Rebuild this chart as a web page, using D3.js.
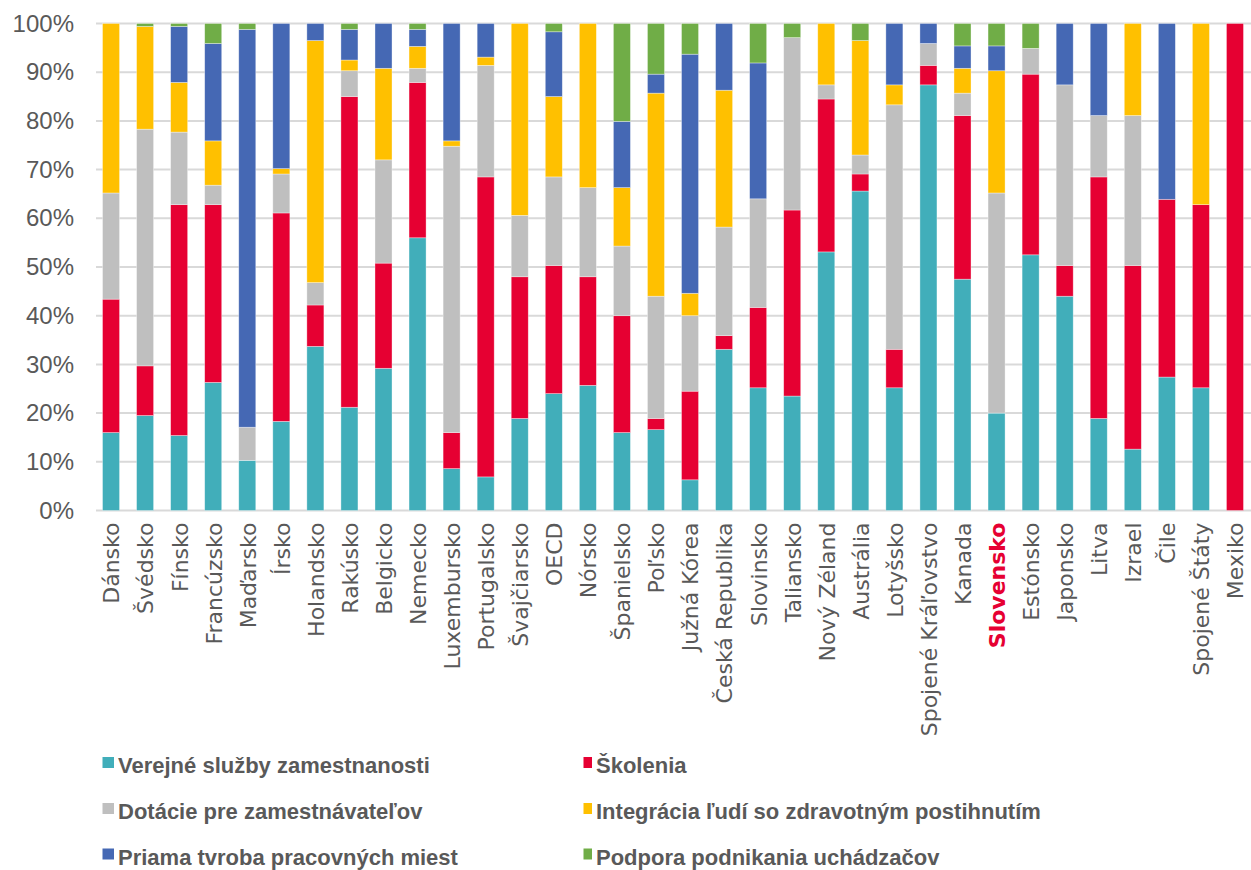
<!DOCTYPE html>
<html lang="sk">
<head>
<meta charset="utf-8">
<script src="https://cdn.jsdelivr.net/npm/d3@7"></script>
<style>
  html, body { margin: 0; padding: 0; background: #fff; }
  svg { display: block; }
</style>
</head>
<body>
<svg id="chart" width="1251" height="870"></svg>
<script>
// Štruktúra výdavkov na aktívne politiky trhu práce (podiel v %)
const countries = ["Dánsko","Švédsko","Fínsko","Francúzsko","Maďarsko","Írsko","Holandsko","Rakúsko","Belgicko","Nemecko","Luxembursko","Portugalsko","Švajčiarsko","OECD","Nórsko","Španielsko","Poľsko","Južná Kórea","Česká Republika","Slovinsko","Taliansko","Nový Zéland","Austrália","Lotyšsko","Spojené Kráľovstvo","Kanada","Slovensko","Estónsko","Japonsko","Litva","Izrael","Čile","Spojené Štáty","Mexiko"];

const verejneSluzby = [16.0,19.5,15.4,26.3,10.3,18.3,33.7,21.2,29.2,56.0,8.6,6.9,18.9,24.0,25.7,16.0,16.6,6.3,33.1,25.2,23.5,53.1,65.6,25.2,87.4,47.5,20.0,52.5,44.0,18.9,12.6,27.4,25.2,0];
const skolenia = [27.4,10.2,47.4,36.5,0,42.8,8.5,63.8,21.6,31.9,7.4,61.6,29.1,26.3,22.3,24.0,2.3,18.2,2.8,16.5,38.2,31.4,3.5,7.9,4.0,33.6,0,37.1,6.3,49.6,37.7,36.5,37.6,100];
const dotacie = [21.8,48.6,14.9,4.0,6.8,8.0,4.6,5.3,21.2,2.9,58.8,22.9,12.6,18.2,18.3,14.3,25.1,15.5,22.3,22.3,35.4,2.9,3.9,50.2,4.5,4.6,45.2,5.3,37.1,12.6,30.8,0,0,0];
const integracia = [34.8,21.1,10.2,9.1,0,1.1,49.7,2.2,18.8,4.5,1.1,1.7,39.4,16.5,33.7,12.0,41.7,4.6,28.1,0,0,12.6,23.5,4.1,0,5.1,25.1,0,0,0,18.9,0,37.2,0];
const priamaTvorba = [0,0,11.5,20.0,81.7,29.8,3.5,6.3,9.2,3.5,24.1,6.9,0,13.3,0,13.6,3.9,49.1,13.7,27.9,0,0,0,12.6,4.1,4.6,5.1,0,12.6,18.9,0,36.1,0,0];
const podpora = [0,0.6,0.6,4.1,1.2,0,0,1.2,0,1.2,0,0,0,1.7,0,20.1,10.4,6.3,0,8.1,2.9,0,3.5,0,0,4.6,4.6,5.1,0,0,0,0,0,0];

const seriesNames = ["Verejné služby zamestnanosti","Školenia","Dotácie pre zamestnávateľov","Integrácia ľudí so zdravotným postihnutím","Priama tvroba pracovných miest","Podpora podnikania uchádzačov"];
const seriesValues = [verejneSluzby, skolenia, dotacie, integracia, priamaTvorba, podpora];
const seriesColors = ["#41AEBA","#E60032","#BFBFBF","#FFC000","#4568B4","#70AD47"];
const yTicks = [0,0.1,0.2,0.3,0.4,0.5,0.6,0.7,0.8,0.9,1];
const highlighted = "Slovensko";

// Riadky pre d3.stack
const keys = seriesNames;
const rows = countries.map((c, i) => {
  const r = { country: c };
  keys.forEach((k, j) => { r[k] = seriesValues[j][i]; });
  return r;
});

const svg = d3.select("#chart");
const textColor = "#595959";

const x = d3.scaleBand().domain(countries).range([94, 1252]).paddingInner(0.5).paddingOuter(0.25);
const y = d3.scaleLinear().domain([0, 1]).range([510.5, 23.5]);

const stacked = d3.stack().keys(keys).offset(d3.stackOffsetExpand)(rows);

// Mriežka
svg.append("g").selectAll("line").data(yTicks).join("line")
  .attr("x1", 96).attr("x2", 1251)
  .attr("y1", d => y(d)).attr("y2", d => y(d))
  .attr("stroke", "#D9D9D9").attr("stroke-width", 2);

// Os Y
const yAxis = d3.axisLeft(y).tickValues(yTicks).tickFormat(d3.format(".0%")).tickSize(0).tickPadding(0);
const gy = svg.append("g").attr("transform", "translate(74,0)").call(yAxis);
gy.select(".domain").remove();
gy.selectAll("text")
  .attr("fill", textColor)
  .style("font-family", "'Liberation Sans', Arial, sans-serif")
  .style("font-size", "24px");

// Stĺpce
svg.append("g").selectAll("g").data(stacked).join("g")
  .attr("fill", (d, i) => seriesColors[i])
  .selectAll("rect").data(d => d).join("rect")
  .attr("x", d => x(d.data.country))
  .attr("width", x.bandwidth())
  .attr("y", d => y(d[1]))
  .attr("height", d => Math.max(0, y(d[0]) - y(d[1])))
  .attr("stroke", "#ffffff").attr("stroke-width", 0.7).attr("stroke-opacity", 0.5);

// Os X s otočenými popismi
const xAxis = d3.axisBottom(x).tickSize(0).tickPadding(0);
const gx = svg.append("g").attr("transform", "translate(0,510.5)").call(xAxis);
gx.select(".domain").remove();
gx.selectAll("text")
  .attr("transform", "rotate(-90)")
  .attr("x", -12).attr("y", 0).attr("dy", "0.38em")
  .attr("text-anchor", "end")
  .attr("fill", d => d === highlighted ? "#E60032" : textColor)
  .style("font-weight", d => d === highlighted ? "bold" : "normal")
  .style("font-family", "'DejaVu Sans', sans-serif")
  .style("font-size", "22px");

// Legenda
const legendPos = [
  {sx: 102.5, sw: 11.5, tx: 118, by: 773},
  {sx: 583.5, sw: 8.5, tx: 596, by: 773},
  {sx: 102.5, sw: 11.5, tx: 118, by: 819},
  {sx: 583.5, sw: 8.5, tx: 596, by: 819},
  {sx: 102.5, sw: 11.5, tx: 118, by: 864.5},
  {sx: 583.5, sw: 8.5, tx: 596, by: 864.5}
];
const legend = svg.append("g").selectAll("g").data(seriesNames).join("g");
legend.append("rect")
  .attr("x", (d, i) => legendPos[i].sx)
  .attr("y", (d, i) => legendPos[i].by - 16)
  .attr("width", (d, i) => legendPos[i].sw)
  .attr("height", 11)
  .attr("fill", (d, i) => seriesColors[i]);
legend.append("text")
  .attr("x", (d, i) => legendPos[i].tx)
  .attr("y", (d, i) => legendPos[i].by)
  .attr("fill", textColor)
  .style("font-family", "'Liberation Sans', Arial, sans-serif")
  .style("font-weight", "bold")
  .style("font-size", "22px")
  .text(d => d);
</script>
</body>
</html>
